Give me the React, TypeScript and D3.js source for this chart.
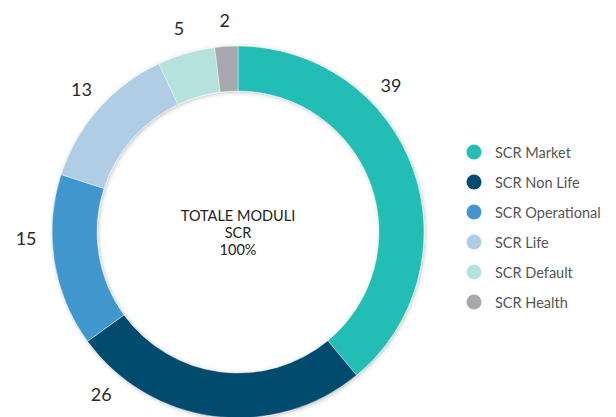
import React from 'react';
import * as d3 from 'd3';

const categories = ['SCR Market', 'SCR Non Life', 'SCR Operational', 'SCR Life', 'SCR Default', 'SCR Health'];
const values = [39, 26, 15, 13, 5, 2];
const colors = ['#22bdb5', '#034b6e', '#4197cd', '#b0cde6', '#b6e2de', '#a7a8ac'];
const centerLines = ['TOTALE MODULI', 'SCR', '100%'];

// label angle nudges (degrees), like the original's manual label placement
const labelNudge = [-24, 33, 7.5, 1, 0, 0];

const width = 616;
const height = 417;
const cx = 238;
const cy = 232;
const outerR = 186;
const innerR = 141;
const labelR = 212;
const font = 'Lato, "Noto Sans", sans-serif';

export default function App() {
  const pie = d3.pie<number>().sort(null).value(d => d);
  const arcs = pie(values);
  const arc = d3.arc<d3.PieArcDatum<number>>().innerRadius(innerR).outerRadius(outerR);

  const legendY = d3.scalePoint<string>().domain(categories).range([152, 302]);

  return (
    <svg width={width} height={height} style={{ position: 'absolute', left: 0, top: 0 }}>
      <defs>
        <filter id="sh" x="-20%" y="-20%" width="140%" height="140%">
          <feDropShadow dx="1" dy="1" stdDeviation="2" floodColor="#000" floodOpacity="0.25" />
        </filter>
      </defs>
      <g transform={`translate(${cx},${cy})`}>
        <g filter="url(#sh)">
          {arcs.map((a, i) => (
            <path key={i} d={arc(a) || ''} fill={colors[i]} stroke="#fff" strokeWidth={0.4} />
          ))}
        </g>
        {arcs.map((a, i) => {
          const ang = (a.startAngle + a.endAngle) / 2 + (labelNudge[i] * Math.PI) / 180;
          const x = Math.sin(ang) * labelR;
          const y = -Math.cos(ang) * labelR;
          return (
            <text key={i} x={x} y={y} textAnchor="middle" dominantBaseline="central"
              fontFamily={font} fontSize={18} fill="#2a2a2a">{values[i]}</text>
          );
        })}
        {centerLines.map((t, i) => (
          <text key={i} x={0} y={-17 + i * 17} textAnchor="middle" dominantBaseline="central"
            fontFamily={font} fontSize={14.5} fill="#222">{t}</text>
        ))}
      </g>
      {categories.map((c, i) => (
        <g key={c} transform={`translate(0,${legendY(c)})`}>
          <circle cx={474} cy={0} r={7.5} fill={colors[i]} />
          <text x={495} y={0} dominantBaseline="central" fontFamily={font} fontSize={14.5} fill="#555">{c}</text>
        </g>
      ))}
    </svg>
  );
}
